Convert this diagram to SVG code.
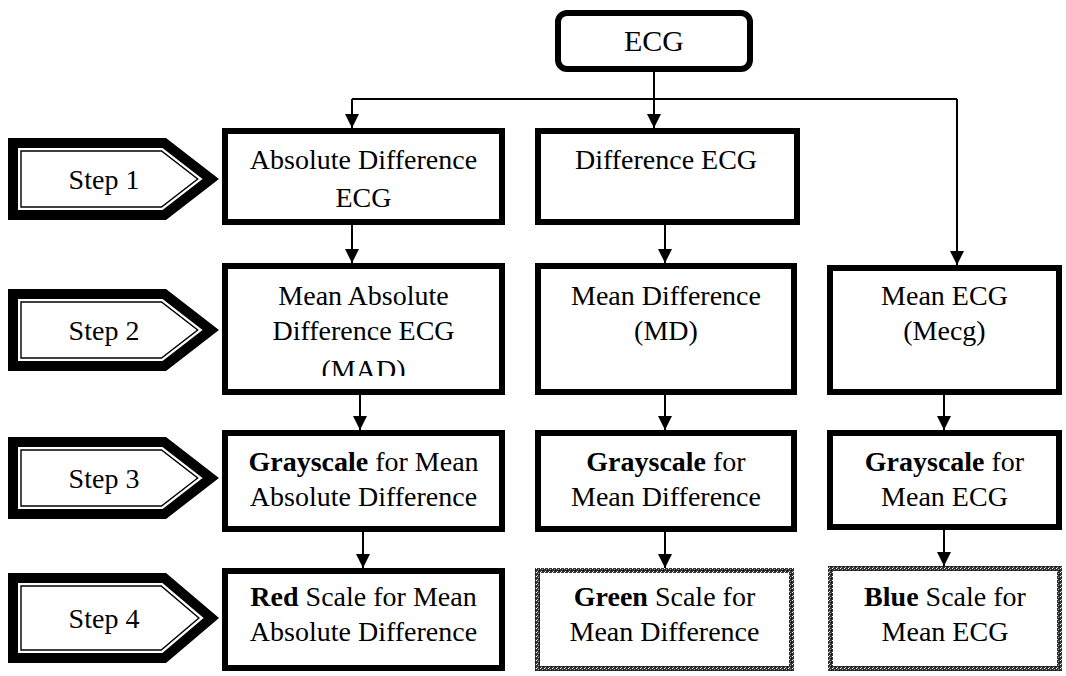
<svg xmlns="http://www.w3.org/2000/svg" width="1066" height="676" viewBox="0 0 1066 676">
<style>
.t{font-family:"Liberation Serif","Times New Roman",serif;font-size:28px;fill:#000;text-anchor:middle}
.b{font-weight:bold}
.box{fill:#fff;stroke:#000;stroke-width:6}
.nbox{fill:#fff;stroke:url(#noise);stroke-width:5}
.band{fill:#fff;stroke:#000;stroke-width:10;stroke-linejoin:miter}
.thin{fill:none;stroke:#000;stroke-width:1.4;stroke-linejoin:miter}
.c{fill:none;stroke:#000;stroke-width:2}
.ca{fill:none;stroke:#000;stroke-width:2;marker-end:url(#ah)}
</style>
<defs>
<marker id="ah" viewBox="0 0 10 10" refX="10" refY="5" markerWidth="15" markerHeight="14" markerUnits="userSpaceOnUse" orient="auto">
<path d="M0,0 L10,5 L0,10 z" fill="#000"/>
</marker>
<pattern id="noise" width="4" height="4" patternUnits="userSpaceOnUse">
<rect width="4" height="4" fill="#333"/>
<rect x="0" y="0" width="1" height="1" fill="#fff"/>
<rect x="2" y="1" width="1" height="1" fill="#999"/>
<rect x="1" y="3" width="1" height="1" fill="#ccc"/>
<rect x="3" y="2" width="1" height="1" fill="#000"/>
</pattern>
<clipPath id="clipMAD"><rect x="225" y="266" width="277" height="110"/></clipPath>
</defs>

<g id="connectors">
<path class="ca" d="M654,72 V128"/>
<path class="c" d="M352,99 H957"/>
<path class="ca" d="M352,99 V128"/>
<path class="ca" d="M957,99 V265"/>
<path class="ca" d="M352,225 V263"/>
<path class="ca" d="M360,395 V430"/>
<path class="ca" d="M363,500 V568"/>
<path class="ca" d="M665,225 V263"/>
<path class="ca" d="M665,395 V430"/>
<path class="ca" d="M665,532 V568"/>
<path class="ca" d="M944,393 V430"/>
<path class="ca" d="M944,530 V566"/>
</g>

<g id="ecg">
<rect x="558" y="13" width="192" height="56" rx="9" class="box"/>
<text class="t" x="654" y="51" style="font-size:30px">ECG</text>
</g>

<g id="step1">
<path class="band" d="M13,143 H164.3 L210.8,179 L164.3,215 H13 Z"/>
<path class="thin" d="M21,151 H161.5 L197.7,179 L161.5,207 H21 Z"/>
<text class="t" x="104" y="189">Step 1</text>
</g>
<g id="step2">
<path class="band" d="M13,294 H164.3 L210.8,330 L164.3,366 H13 Z"/>
<path class="thin" d="M21,302 H161.5 L197.7,330 L161.5,358 H21 Z"/>
<text class="t" x="104" y="340">Step 2</text>
</g>
<g id="step3">
<path class="band" d="M13,442 H164.3 L210.8,478 L164.3,514 H13 Z"/>
<path class="thin" d="M21,450 H161.5 L197.7,478 L161.5,506 H21 Z"/>
<text class="t" x="104" y="488">Step 3</text>
</g>
<g id="step4">
<path class="band" d="M13,578 H164.2 L211.3,618 L164.2,658 H13 Z"/>
<path class="thin" d="M21,586 H161.2 L198.9,618 L161.2,650 H21 Z"/>
<text class="t" x="104" y="628">Step 4</text>
</g>

<g id="absdiff">
<rect class="box" x="225" y="131" width="277" height="91"/>
<text class="t" x="363.5" y="169">Absolute Difference</text>
<text class="t" x="363.5" y="207">ECG</text>
</g>
<g id="diff">
<rect class="box" x="538" y="131" width="259" height="91"/>
<text class="t" x="666" y="169">Difference ECG</text>
</g>

<g id="mad">
<rect class="box" x="225" y="266" width="277" height="126"/>
<text class="t" x="363.5" y="305">Mean Absolute</text>
<text class="t" x="363.5" y="340">Difference ECG</text>
<text class="t" x="363.5" y="379" clip-path="url(#clipMAD)">(MAD)</text>
</g>
<g id="md">
<rect class="box" x="538" y="266" width="256" height="126"/>
<text class="t" x="666" y="305">Mean Difference</text>
<text class="t" x="666" y="340">(MD)</text>
</g>
<g id="mecg">
<rect class="box" x="830" y="268" width="229" height="124"/>
<text class="t" x="944.5" y="305">Mean ECG</text>
<text class="t" x="944.5" y="340">(Mecg)</text>
</g>

<g id="gray-mad">
<rect class="box" x="225" y="433" width="277" height="96"/>
<text class="t" x="363.5" y="471"><tspan class="b">Grayscale</tspan> for Mean</text>
<text class="t" x="363.5" y="506">Absolute Difference</text>
</g>
<g id="gray-md">
<rect class="box" x="538" y="433" width="256" height="96"/>
<text class="t" x="666" y="471"><tspan class="b">Grayscale</tspan> for</text>
<text class="t" x="666" y="506">Mean Difference</text>
</g>
<g id="gray-mecg">
<rect class="box" x="830" y="433" width="229" height="94"/>
<text class="t" x="944.5" y="471"><tspan class="b">Grayscale</tspan> for</text>
<text class="t" x="944.5" y="506">Mean ECG</text>
</g>

<g id="red">
<rect class="box" x="225" y="571" width="277" height="97"/>
<text class="t" x="363.5" y="606"><tspan class="b">Red</tspan> Scale for Mean</text>
<text class="t" x="363.5" y="641">Absolute Difference</text>
</g>
<g id="green">
<rect class="nbox" x="537.5" y="570.5" width="254" height="98"/>
<text class="t" x="664.5" y="606"><tspan class="b">Green</tspan> Scale for</text>
<text class="t" x="664.5" y="641">Mean Difference</text>
</g>
<g id="blue">
<rect class="nbox" x="830.5" y="568.5" width="229" height="100"/>
<text class="t" x="945" y="606"><tspan class="b">Blue</tspan> Scale for</text>
<text class="t" x="945" y="641">Mean ECG</text>
</g>
</svg>
